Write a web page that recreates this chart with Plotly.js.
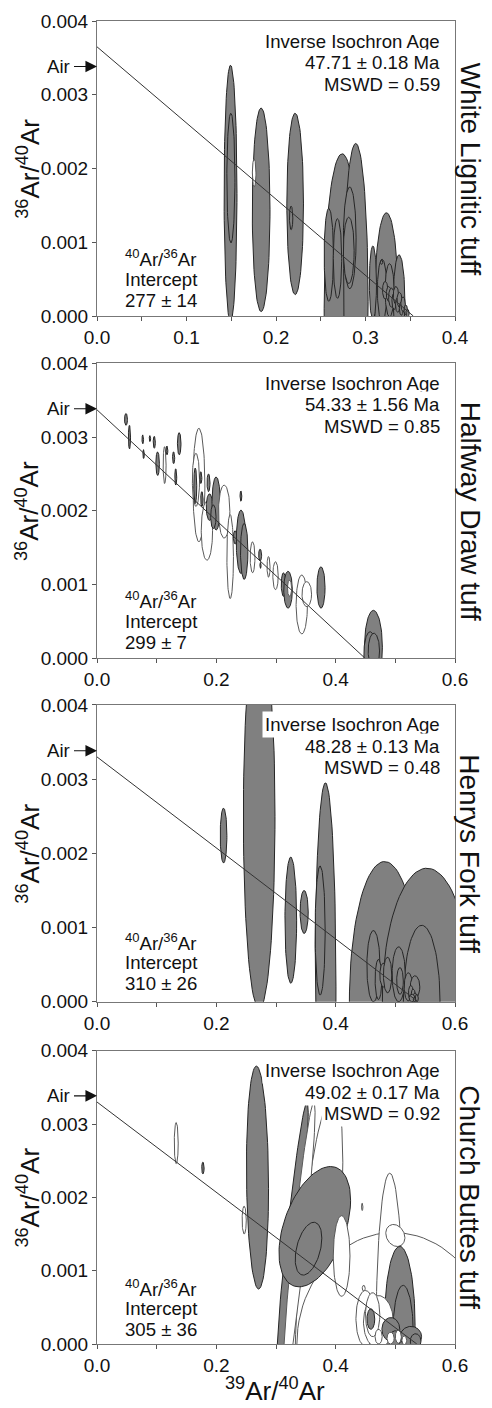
<!DOCTYPE html>
<html><head><meta charset="utf-8">
<script src="https://cdn.plot.ly/plotly-3.0.1.min.js"></script>
<style>body{margin:0;background:#fff}#chart{width:492px;height:1408px}</style>
</head><body><div id="chart"></div>
<script>
// ---- data ----
const panelNames = ["White Lignitic tuff", "Halfway Draw tuff", "Henrys Fork tuff", "Church Buttes tuff"];
const ageTexts = ["47.71 ± 0.18 Ma", "54.33 ± 1.56 Ma", "48.28 ± 0.13 Ma", "49.02 ± 0.17 Ma"];
const mswdTexts = ["MSWD = 0.59", "MSWD = 0.85", "MSWD = 0.48", "MSWD = 0.92"];
const interceptTexts = ["277 ± 14", "299 ± 7", "310 ± 26", "305 ± 36"];
const xMax = [0.4, 0.6, 0.6, 0.6];
const xLabelStep = [0.1, 0.2, 0.2, 0.2];
const xMinorStep = [0.05, 0.1, 0.1, 0.1];
const isoYIntercept = [0.00365, 0.00337, 0.00330, 0.00330];
const isoXIntercept = [0.3534, 0.4493, 0.538, 0.536];
const airRatio = 0.003384;

// error ellipses: [x, x half-width, y, y half-height, correlation, open(1=white)]
const ellWhiteLignitic = [
  [0.1492, 0.0072, 0.00166, 0.00174, 0, 0],
  [0.1834, 0.0099, 0.00144, 0.00138, 0, 0],
  [0.2214, 0.0093, 0.00152, 0.00123, 0, 0],
  [0.2739, 0.0201, 0.00010, 0.00210, 0, 0],
  [0.2891, 0.0138, 0.00020, 0.00214, 0, 0],
  [0.3234, 0.0134, 0.00010, 0.00130, 0, 0],
  [0.3083, 0.0040, 0.00045, 0.00050, 0, 0],
  [0.3375, 0.0065, 0.00020, 0.00063, 0, 0],
  [0.1496, 0.0045, 0.00187, 0.00088, 0, 0],
  [0.1756, 0.0020, 0.00194, 0.00019, 0, 1],
  [0.2169, 0.0019, 0.00133, 0.00016, 0, 0],
  [0.2590, 0.0052, 0.00083, 0.00063, 0, 0],
  [0.2687, 0.0047, 0.00078, 0.00054, 0, 0],
  [0.2824, 0.0071, 0.00106, 0.00069, 0, 0],
  [0.2813, 0.0060, 0.00089, 0.00045, 0, 0],
  [0.3186, 0.0053, 0.00035, 0.00042, 0, 0],
  [0.3269, 0.0050, 0.00035, 0.00036, 0, 0],
  [0.3180, 0.0013, 0.00073, 0.00003, 0, 0],
  [0.3220, 0.0030, 0.00035, 0.00012, 0, 0],
  [0.3260, 0.0028, 0.00030, 0.00010, 0, 0],
  [0.3290, 0.0032, 0.00025, 0.00013, 0, 0],
  [0.3320, 0.0025, 0.00020, 0.00011, 0, 0],
  [0.3340, 0.0030, 0.00028, 0.00012, 0, 0],
  [0.3360, 0.0025, 0.00015, 0.00010, 0, 0],
  [0.3380, 0.0028, 0.00022, 0.00010, 0, 0],
  [0.3400, 0.0022, 0.00010, 0.00009, 0, 0],
  [0.3420, 0.0025, 0.00016, 0.00010, 0, 0],
  [0.3450, 0.0020, 0.00008, 0.00007, 0, 0],
  [0.3470, 0.0018, 0.00004, 0.00005, 0, 0]
];
const ellHalfwayDraw = [
  [0.0486, 0.0025, 0.00324, 0.00008, 0, 0],
  [0.0544, 0.0018, 0.00300, 0.00016, 0, 0],
  [0.0767, 0.0013, 0.00297, 0.00006, 0, 0],
  [0.0781, 0.0012, 0.00277, 0.00006, 0, 0],
  [0.0887, 0.0012, 0.00298, 0.00004, 0, 0],
  [0.0960, 0.0018, 0.00293, 0.00008, 0, 0],
  [0.1016, 0.0030, 0.00264, 0.00016, 0, 0],
  [0.1133, 0.0025, 0.00262, 0.00025, 0, 1],
  [0.1172, 0.0015, 0.00282, 0.00006, 0, 0],
  [0.1284, 0.0018, 0.00272, 0.00008, 0, 0],
  [0.1378, 0.0030, 0.00291, 0.00015, 0, 0],
  [0.1320, 0.0016, 0.00246, 0.00011, 0, 0],
  [0.1708, 0.0100, 0.00235, 0.00077, 0, 1],
  [0.1658, 0.0060, 0.00242, 0.00036, 0, 1],
  [0.1647, 0.0025, 0.00234, 0.00024, 0, 0],
  [0.1740, 0.0017, 0.00245, 0.00008, 0, 0],
  [0.1758, 0.0020, 0.00216, 0.00010, 0, 0],
  [0.1869, 0.0025, 0.00238, 0.00012, 0, 0],
  [0.1842, 0.0095, 0.00173, 0.00040, 0, 1],
  [0.1886, 0.0055, 0.00205, 0.00018, 0, 0],
  [0.1997, 0.0070, 0.00210, 0.00036, 0, 0],
  [0.1950, 0.0045, 0.00192, 0.00016, 0, 0],
  [0.2132, 0.0095, 0.00199, 0.00036, 0, 1],
  [0.2232, 0.0055, 0.00138, 0.00057, 0, 1],
  [0.2412, 0.0015, 0.00220, 0.00007, 0, 0],
  [0.2316, 0.0030, 0.00164, 0.00009, 0, 0],
  [0.2414, 0.0080, 0.00158, 0.00043, 0, 0],
  [0.2467, 0.0062, 0.00145, 0.00038, 0, 0],
  [0.2607, 0.0040, 0.00137, 0.00021, 0, 1],
  [0.2734, 0.0025, 0.00140, 0.00008, 0, 0],
  [0.2740, 0.0010, 0.00126, 0.00004, 0, 0],
  [0.2875, 0.0025, 0.00124, 0.00014, 0, 1],
  [0.2992, 0.0045, 0.00112, 0.00019, 0, 1],
  [0.3126, 0.0038, 0.00100, 0.00016, 0, 0],
  [0.3202, 0.0072, 0.00093, 0.00025, 0, 0],
  [0.3227, 0.0035, 0.00095, 0.00011, 0, 1],
  [0.3432, 0.0095, 0.00073, 0.00040, 0, 1],
  [0.3516, 0.0080, 0.00087, 0.00017, 0, 1],
  [0.3754, 0.0068, 0.00096, 0.00028, 0, 0],
  [0.4633, 0.0150, 0.00015, 0.00050, 0, 0],
  [0.4577, 0.0105, 0.00005, 0.00031, 0, 0],
  [0.4640, 0.0095, 0.00010, 0.00024, 0, 0]
];
const ellHenrysFork = [
  [0.2121, 0.0056, 0.00224, 0.00037, 0, 0],
  [0.2718, 0.0265, 0.00250, 0.00260, 0, 0],
  [0.3248, 0.0098, 0.00110, 0.00085, 0, 0],
  [0.3472, 0.0068, 0.00121, 0.00029, 0, 0],
  [0.3829, 0.0176, 0.00020, 0.00275, 0, 0],
  [0.3740, 0.0084, 0.00096, 0.00087, 0, 0],
  [0.4820, 0.0590, 0.00000, 0.00189, 0, 0],
  [0.5530, 0.0750, 0.00000, 0.00180, 0, 0],
  [0.5442, 0.0307, 0.00000, 0.00103, 0, 0],
  [0.4633, 0.0110, 0.00048, 0.00048, 0, 0],
  [0.4717, 0.0056, 0.00030, 0.00027, 0, 0],
  [0.4800, 0.0060, 0.00036, 0.00016, 0, 0],
  [0.4870, 0.0070, 0.00036, 0.00024, 0, 0],
  [0.5056, 0.0110, 0.00037, 0.00037, 0, 0],
  [0.5078, 0.0056, 0.00028, 0.00018, 0, 0],
  [0.5218, 0.0070, 0.00020, 0.00019, 0, 0],
  [0.5330, 0.0080, 0.00020, 0.00015, 0, 0],
  [0.5260, 0.0040, 0.00012, 0.00010, 0, 0],
  [0.5300, 0.0035, 0.00009, 0.00008, 0, 0],
  [0.5330, 0.0030, 0.00006, 0.00006, 0, 0],
  [0.5360, 0.0025, 0.00005, 0.00005, 0, 0],
  [0.5280, 0.0050, 0.00005, 0.00005, 0, 0],
  [0.5320, 0.0020, 0.00003, 0.00003, 0, 0]
];
const ellChurchButtes = [
  [0.2690, 0.0185, 0.00227, 0.00152, -0.1, 0],
  [0.1328, 0.0033, 0.00274, 0.00028, 0, 1],
  [0.1775, 0.0020, 0.00240, 0.00008, 0, 0],
  [0.2467, 0.0035, 0.00169, 0.00019, 0, 1],
  [0.3720, 0.0400, 0.00110, 0.00230, 0.60, 1],
  [0.3260, 0.0280, 0.00130, 0.00200, 0.93, 0],
  [0.3375, 0.0280, 0.00130, 0.00200, 0.93, 1],
  [0.4970, 0.1620, 0.00000, 0.00152, 0, 1],
  [0.3650, 0.0600, 0.00160, 0.00082, 0.44, 0],
  [0.3545, 0.0223, 0.00130, 0.00036, 0.40, 0],
  [0.4100, 0.0140, 0.00120, 0.00055, 0, 1],
  [0.4906, 0.0229, 0.00010, 0.00223, 0, 1],
  [0.5000, 0.0160, 0.00148, 0.00015, -0.2, 1],
  [0.5074, 0.0257, 0.00025, 0.00108, 0, 0],
  [0.5130, 0.0170, 0.00015, 0.00065, 0, 0],
  [0.4445, 0.0012, 0.00187, 0.00005, 0, 1],
  [0.4470, 0.0025, 0.00076, 0.00004, 0, 1],
  [0.4500, 0.0160, 0.00035, 0.00038, 0, 1],
  [0.4716, 0.0250, 0.00030, 0.00036, 0, 1],
  [0.4620, 0.0120, 0.00040, 0.00030, 0, 1],
  [0.4590, 0.0065, 0.00034, 0.00014, 0, 0],
  [0.4925, 0.0150, 0.00020, 0.00016, 0, 0],
  [0.5260, 0.0180, 0.00010, 0.00014, 0, 0],
  [0.5000, 0.0100, 0.00008, 0.00010, 0, 0],
  [0.5340, 0.0090, 0.00004, 0.00010, 0, 0],
  [0.4720, 0.0060, 0.00010, 0.00010, 0, 1],
  [0.4920, 0.0060, 0.00008, 0.00008, 0, 1],
  [0.5050, 0.0050, 0.00010, 0.00009, 0, 1],
  [0.5150, 0.0040, 0.00005, 0.00006, 0, 1]
];
const ellipseSets = [ellWhiteLignitic, ellHalfwayDraw, ellHenrysFork, ellChurchButtes];

// ---- layout geometry ----
const domains = [[0.777, 1.0], [0.5183, 0.7412], [0.2587, 0.483], [0.0, 0.2217]];
const FONT = "Liberation Sans, Arial, sans-serif";
const GRAY = "#808080";

function ellipsePath(e) {
  const [cx, sx, cy, sy, rho] = e;
  const k = Math.sqrt(1 - rho * rho);
  const xs = [], ys = [];
  for (let i = 0; i <= 90; i++) {
    const t = 2 * Math.PI * i / 90;
    xs.push(cx + sx * Math.cos(t));
    ys.push(cy + sy * (rho * Math.cos(t) + k * Math.sin(t)));
  }
  return [xs, ys];
}

const traces = [];
const annotations = [];
const layout = {
  width: 492, height: 1408,
  margin: {l: 97, r: 37, t: 21, b: 64},
  paper_bgcolor: "#fff", plot_bgcolor: "#fff",
  showlegend: false,
  font: {family: FONT, size: 18, color: "#111"},
  annotations: annotations
};

for (let p = 0; p < 4; p++) {
  const sfx = p === 0 ? "" : String(p + 1);
  const xa = "x" + sfx, ya = "y" + sfx;
  ellipseSets[p].forEach(e => {
    const [xs, ys] = ellipsePath(e);
    const open = e[5] === 1;
    traces.push({
      type: "scatter", mode: "lines", x: xs, y: ys, xaxis: xa, yaxis: ya,
      fill: "toself", fillcolor: open ? "#ffffff" : GRAY,
      line: {color: open ? "#5a5a5a" : "#262626", width: 1},
      hoverinfo: "skip"
    });
  });
  traces.push({
    type: "scatter", mode: "lines", xaxis: xa, yaxis: ya,
    x: [0, isoXIntercept[p]], y: [isoYIntercept[p], 0],
    line: {color: "#333", width: 1}, hoverinfo: "skip"
  });

  layout["xaxis" + sfx] = {
    domain: [0, 1], anchor: ya, range: [0, xMax[p]],
    dtick: xLabelStep[p], tick0: 0, tickformat: ".1f",
    ticks: "outside", ticklen: 4, tickcolor: "#555",
    minor: {dtick: xMinorStep[p], ticks: "outside", ticklen: 4, tickcolor: "#555"},
    showline: true, linecolor: "#777", linewidth: 1, mirror: true,
    showgrid: false, zeroline: false,
    tickfont: {family: FONT, size: 19, color: "#111"}
  };
  layout["yaxis" + sfx] = {
    domain: domains[p], anchor: xa, range: [0, 0.004],
    dtick: 0.001, tick0: 0, tickformat: ".3f",
    ticks: "outside", ticklen: 4, tickcolor: "#555",
    showline: true, linecolor: "#777", linewidth: 1, mirror: true,
    showgrid: false, zeroline: false,
    tickfont: {family: FONT, size: 19, color: "#111"}
  };

  const xd = xa + " domain", yd = ya + " domain";
  // y-axis title
  annotations.push({
    xref: xd, yref: yd, x: -0.192, y: 0.5, xanchor: "center", yanchor: "middle",
    text: "<sup>36</sup>Ar/<sup>40</sup>Ar", textangle: -90, showarrow: false,
    font: {family: FONT, size: 26, color: "#111"}
  });
  // sample name
  annotations.push({
    xref: xd, yref: yd, x: 1.042, y: 0.5, xanchor: "center", yanchor: "middle",
    text: panelNames[p], textangle: 90, showarrow: false,
    font: {family: FONT, size: 28, color: "#111"}
  });
  // age block (each line with white background)
  ["Inverse Isochron Age", ageTexts[p], mswdTexts[p]].forEach((t, i) => {
    annotations.push({
      xref: xd, yref: yd, x: 0.9665, y: 1, xanchor: "right", yanchor: "middle",
      yshift: -(20 + 21.5 * i), text: t, showarrow: false, align: "right",
      bgcolor: "#ffffff", borderpad: 2,
      font: {family: FONT, size: 18.6, color: "#111"}
    });
  });
  // intercept block
  ["<sup>40</sup>Ar/<sup>36</sup>Ar", "Intercept", interceptTexts[p]].forEach((t, i) => {
    annotations.push({
      xref: xd, yref: yd, x: 0.073, y: 1, xanchor: "left", yanchor: "middle",
      yshift: -(237 + 21 * i), text: t, showarrow: false, align: "left",
      font: {family: FONT, size: 18.6, color: "#111"}
    });
  });
  // Air arrow
  annotations.push({
    xref: xa, yref: ya, x: 0, y: airRatio, text: "Air", showarrow: true,
    ax: -39, ay: 0, arrowhead: 2, arrowsize: 2.1, arrowwidth: 1.1, arrowcolor: "#111",
    standoff: 0, startstandoff: 3,
    font: {family: FONT, size: 18.6, color: "#111"}
  });
}
// x-axis title
annotations.push({
  xref: "x4 domain", yref: "y4 domain", x: 0.4976, y: -0.155, xanchor: "center", yanchor: "middle",
  text: "<sup>39</sup>Ar/<sup>40</sup>Ar", showarrow: false,
  font: {family: FONT, size: 26, color: "#111"}
});

Plotly.newPlot("chart", traces, layout, {staticPlot: true});
</script>
</body></html>
